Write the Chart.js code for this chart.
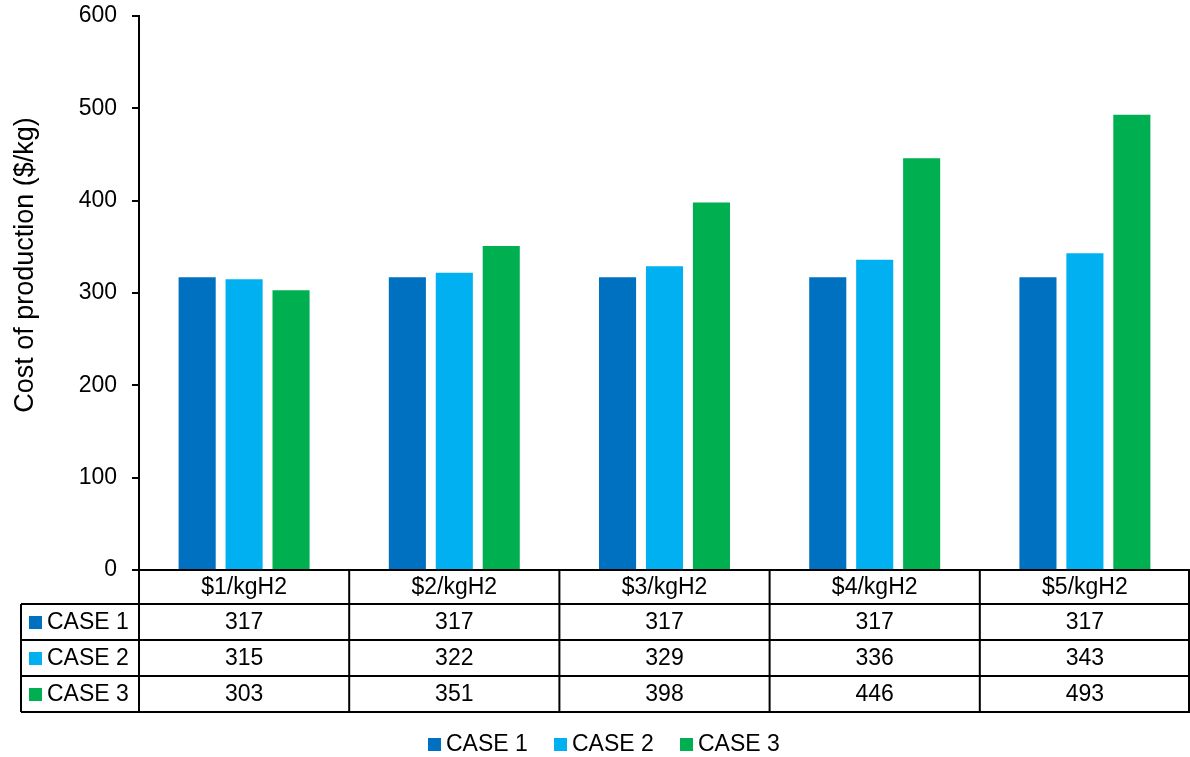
<!DOCTYPE html>
<html>
<head>
<meta charset="utf-8">
<script src="https://cdn.jsdelivr.net/npm/chart.js@4.4.1/dist/chart.umd.min.js"></script>
<style>
  html, body { margin: 0; padding: 0; background: #fff; }
  #wrap { width: 1190px; height: 757px; }
</style>
</head>
<body>
<div id="wrap"><canvas id="chart" width="1190" height="757"></canvas></div>
<script>
// datos del grafico
const categories = ['$1/kgH2', '$2/kgH2', '$3/kgH2', '$4/kgH2', '$5/kgH2'];
const seriesNames = ['CASE 1', 'CASE 2', 'CASE 3'];
const case1 = [317, 317, 317, 317, 317];
const case2 = [315, 322, 329, 336, 343];
const case3 = [303, 351, 398, 446, 493];
const seriesColors = ['#0070C0', '#00B0F0', '#00B050'];
const yTicks = [0, 100, 200, 300, 400, 500, 600];
const yTitle = 'Cost of production ($/kg)';

const FONT = 'Liberation Sans, Arial, sans-serif';
const TEXT_SIZE = 23;

// titulo del eje, tabla de datos y leyenda dibujados a mano
const dataTablePlugin = {
    id: 'dataTable',
    afterDraw(chart) {
        const ctx = chart.ctx;
        const x = chart.scales.x;
        const area = chart.chartArea;
        const colW = (area.right - area.left) / categories.length;
        const tableLeft = 21;
        const rowTops = [area.bottom, area.bottom + 34, area.bottom + 70, area.bottom + 106, area.bottom + 142];

        ctx.save();
        // titulo del eje Y
        ctx.save();
        ctx.translate(33, 265);
        ctx.rotate(-Math.PI / 2);
        ctx.fillStyle = '#000';
        ctx.font = '27px ' + FONT;
        ctx.textAlign = 'center';
        ctx.textBaseline = 'alphabetic';
        ctx.fillText(yTitle, 0, 0);
        ctx.restore();

        ctx.strokeStyle = '#000';
        ctx.lineWidth = 2;
        ctx.beginPath();
        // lineas horizontales
        ctx.moveTo(area.left, rowTops[0]); ctx.lineTo(area.right, rowTops[0]);
        for (let r = 1; r < rowTops.length; r++) {
            ctx.moveTo(tableLeft, rowTops[r]); ctx.lineTo(area.right, rowTops[r]);
        }
        // lineas verticales
        ctx.moveTo(tableLeft, rowTops[1]); ctx.lineTo(tableLeft, rowTops[4]);
        for (let i = 0; i <= categories.length; i++) {
            const cx = Math.min(area.left + i * colW, area.right - 1);
            ctx.moveTo(cx, rowTops[0]); ctx.lineTo(cx, rowTops[4]);
        }
        ctx.stroke();

        ctx.fillStyle = '#000';
        ctx.font = TEXT_SIZE + 'px ' + FONT;
        ctx.textAlign = 'center';
        ctx.textBaseline = 'middle';
        categories.forEach((c, i) => {
            const cx = x.getPixelForValue(i);
            ctx.fillText(c, cx, (rowTops[0] + rowTops[1]) / 2 + 1);
        });

        chart.data.datasets.forEach((ds, r) => {
            const cy = (rowTops[r + 1] + rowTops[r + 2]) / 2 + 1;
            ctx.fillStyle = ds.backgroundColor;
            ctx.fillRect(29, cy - 7, 13, 13);
            ctx.fillStyle = '#000';
            ctx.textAlign = 'left';
            ctx.fillText(ds.label, 47, cy);
            ctx.textAlign = 'center';
            ds.data.forEach((v, i) => {
                ctx.fillText(String(v), x.getPixelForValue(i), cy);
            });
        });

        // leyenda inferior
        const legendStarts = [428, 554, 680];
        const ly = 745;
        chart.data.datasets.forEach((ds, r) => {
            ctx.fillStyle = ds.backgroundColor;
            ctx.fillRect(legendStarts[r], ly - 7, 13, 13);
            ctx.fillStyle = '#000';
            ctx.textAlign = 'left';
            ctx.fillText(ds.label, legendStarts[r] + 18, ly);
        });
        ctx.restore();
    }
};

const seriesData = [case1, case2, case3];

const ctx = document.getElementById('chart').getContext('2d');
new Chart(ctx, {
    type: 'bar',
    data: {
        labels: categories,
        datasets: seriesNames.map((name, i) => ({
            label: name,
            data: seriesData[i],
            backgroundColor: seriesColors[i],
            borderWidth: 0,
            categoryPercentage: 0.67,
            barPercentage: 0.79
        }))
    },
    options: {
        responsive: false,
        animation: false,
        layout: {
            padding: { top: 16, bottom: 187, left: 0, right: 0 }
        },
        plugins: {
            legend: { display: false },
            tooltip: { enabled: false }
        },
        scales: {
            x: {
                display: false
            },
            y: {
                min: 0,
                max: 600,
                afterBuildTicks(scale) {
                    scale.ticks = yTicks.map(v => ({ value: v }));
                },
                afterFit(scale) {
                    scale.width = 139;
                    scale.paddingTop = 0;
                    scale.paddingBottom = 0;
                },
                grid: {
                    drawOnChartArea: false,
                    drawTicks: true,
                    tickLength: 7,
                    color: '#000',
                    lineWidth: 2
                },
                border: { display: true, color: '#000', width: 2 },
                ticks: {
                    color: '#000',
                    padding: 15,
                    font: { family: FONT, size: TEXT_SIZE }
                }
            }
        }
    },
    plugins: [dataTablePlugin]
});
</script>
</body>
</html>
